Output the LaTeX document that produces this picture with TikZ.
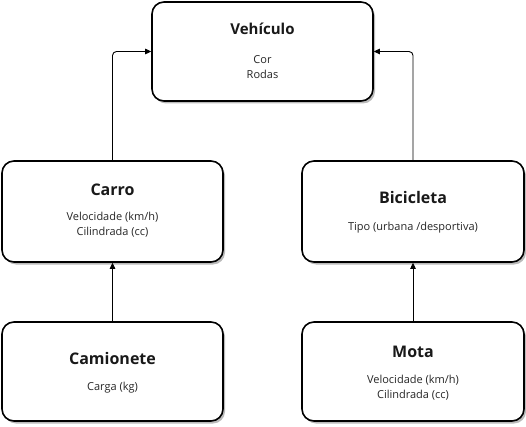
\documentclass[tikz,border=0pt]{standalone}
\usepackage{fontspec}
\setmainfont{Open Sans}
\usetikzlibrary{shadows,arrows.meta}
\begin{document}
\begin{tikzpicture}[x=1pt,y=-1pt,
  box/.style={draw=black,line width=1.6pt,rounded corners=12pt,fill=white,
    minimum width=221pt,inner sep=0pt,
    drop shadow={shadow xshift=2pt,shadow yshift=-2.5pt,fill=black!45,opacity=0.6}},
  ttl/.style={font=\bfseries\fontsize{16}{19}\selectfont,text=black!90},
  sub/.style={font=\fontsize{11}{15}\selectfont,text=black!85,align=center},
  conn/.style={draw=black,line width=0.9pt,-{Triangle[length=6pt,width=5.5pt]},rounded corners=4pt}]
\useasboundingbox (0,0) rectangle (526,427);
% boxes
\node[box,minimum height=99pt] (veh) at (262.5,51.5) {};
\node[box,minimum height=101pt] (car) at (112.5,211.5) {};
\node[box,minimum height=101pt,minimum width=222pt] (bic) at (413,211.5) {};
\node[box,minimum height=99pt] (cam) at (112.5,371.5) {};
\node[box,minimum height=99pt,minimum width=222pt] (mot) at (413,371.5) {};
% texts
\node[ttl,font=\bfseries\fontsize{15}{18}\selectfont] (t1) at (262.5,29) {Vehículo};
\node[sub] (s1) at (262.5,67) {Cor\\Rodas};
\node[ttl] (t2) at (112.5,190) {Carro};
\node[sub] (s2) at (112.5,225) {Velocidade (km/h)\\Cilindrada (cc)};
\node[ttl] (t3) at (413,198) {Bicicleta};
\node[sub] (s3) at (413,228) {Tipo (urbana /desportiva)};
\node[ttl] (t4) at (112.5,358) {Camionete};
\node[sub] (s4) at (112.5,388) {Carga (kg)};
\node[ttl] (t5) at (413,352) {Mota};
\node[sub] (s5) at (413,388) {Velocidade (km/h)\\Cilindrada (cc)};
% connectors
\draw[conn] (car.north) |- (veh.west);
\draw[conn] (bic.north) |- (veh.east);
\draw[conn] (cam.north) -- (car.south);
\draw[conn] (mot.north) -- (bic.south);
\end{tikzpicture}
\end{document}
